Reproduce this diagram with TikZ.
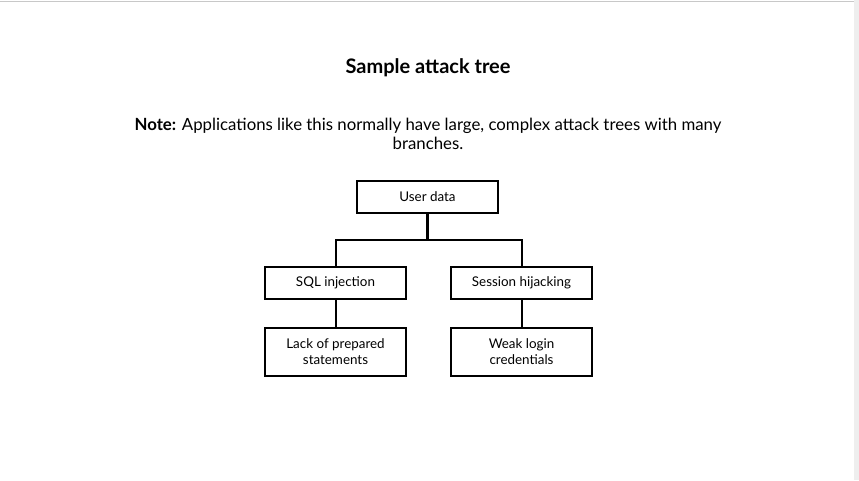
\documentclass[tikz,border=0pt]{standalone}
\usepackage{fontspec}
\setmainfont{Lato}
\usepackage{tikz}
\usetikzlibrary{positioning}
\definecolor{EdgeGray}{RGB}{200,200,200}
\definecolor{StripGray}{RGB}{238,238,238}

\begin{document}
\begin{tikzpicture}[x=1pt,y=-1pt,
  treebox/.style={
    draw=black,
    line width=2pt,
    minimum width=141pt,
    minimum height=32pt,
    align=center,
    inner sep=2pt,
    font=\fontsize{13.4}{16}\selectfont
  },
  branch/.style={line width=2pt}]
  \useasboundingbox (0,0) rectangle (859,480);
  \fill[StripGray] (854,0) rectangle (859,480);
  \draw[EdgeGray, line width=1.2pt] (0,1.5) -- (854,1.5);

  \node (title) at (428,68) {\fontsize{20}{24}\selectfont\bfseries Sample attack tree};
  \node[align=center, font=\fontsize{16.8}{19.5}\selectfont] (note) at (428,134) {
    \textbf{Note:} Applications like this normally have large, complex attack trees with many\\
    branches.
  };

  \node[treebox] (root) at (427.5,197) {User data};
  \node[treebox] (sql) at (335.5,283) {SQL injection};
  \node[treebox] (session) at (521.5,283) {Session hijacking};
  \node[treebox, minimum height=48pt] (prepared) at (335.5,352) {Lack of prepared\\statements};
  \node[treebox, minimum height=48pt] (weak) at (521.5,352) {Weak login\\credentials};

  \draw[branch, line width=2.8pt] (root.south) -- ++(0,26) coordinate (fork);
  \draw[branch] (fork) -| (sql.north);
  \draw[branch] (fork) -| (session.north);
  \draw[branch] (sql) -- (prepared);
  \draw[branch] (session) -- (weak);
\end{tikzpicture}
\end{document}
